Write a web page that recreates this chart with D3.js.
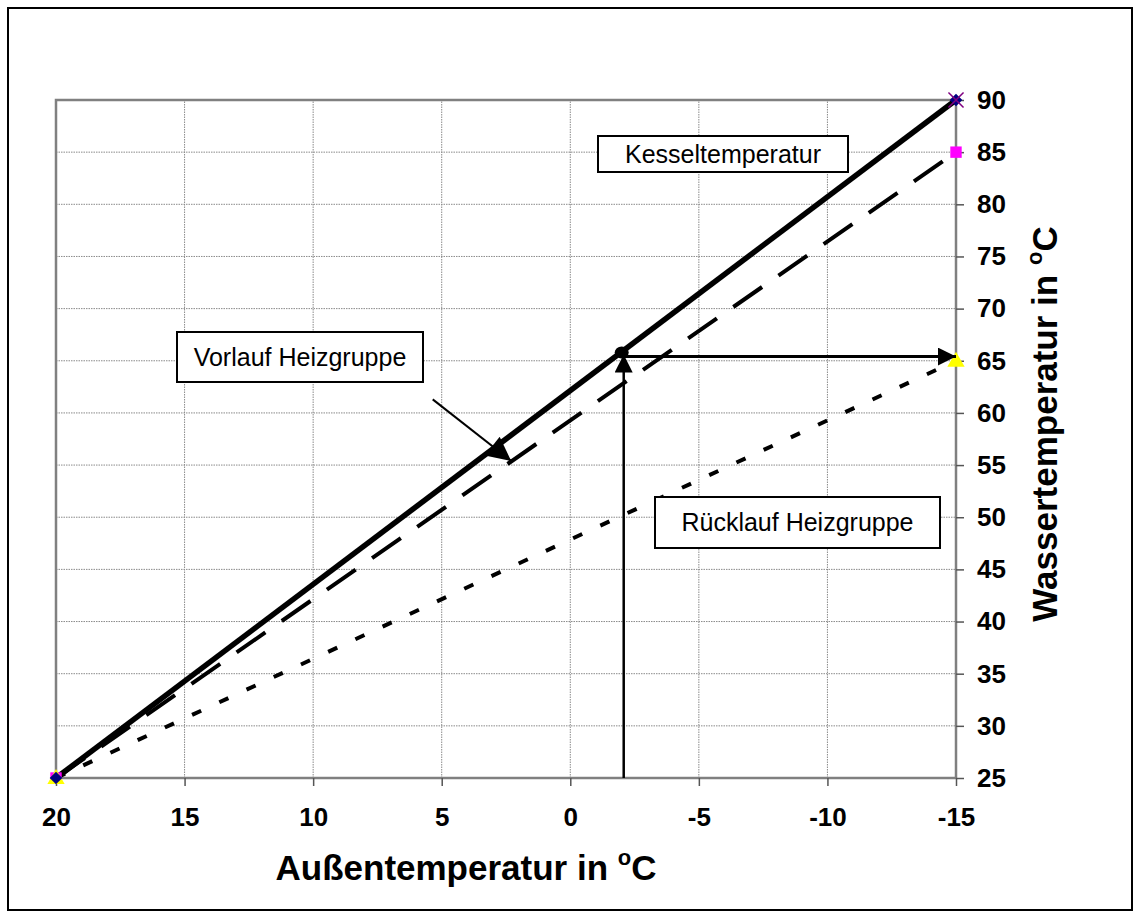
<!DOCTYPE html>
<html>
<head>
<meta charset="utf-8">
<script src="https://cdn.jsdelivr.net/npm/d3@7"></script>
<style>
  body { margin: 0; background: #fff; }
  text { font-family: "Liberation Sans", Arial, sans-serif; }
</style>
</head>
<body>
<svg id="chart" width="1134" height="912"></svg>
<script>
// Heating curve data: outdoor temperature (°C) vs. water temperature (°C)
const outdoorTemps = [20, -15];
const kesselTemps = [25, 90];      // boiler temperature
const vorlaufTemps = [25, 85];     // supply temperature, heating group
const ruecklaufTemps = [25, 65];   // return temperature, heating group
const xTickValues = [20, 15, 10, 5, 0, -5, -10, -15];
const yTickValues = [25, 30, 35, 40, 45, 50, 55, 60, 65, 70, 75, 80, 85, 90];

// Operating point
const operatingOutdoor = -2;
const operatingWater = 65.8;
const readoutWater = 65.4;

// Pointer from the "Vorlauf" label to its curve
const pointerFrom = [5.35, 61.3];
const pointerTo = [2.3, 55.4];

const svg = d3.select("#chart");
const W = 1134, H = 912;

const x = d3.scaleLinear().domain([20, -15]).range([56, 956]);
const y = d3.scaleLinear().domain([25, 90]).range([778, 100]);

// outer frame
svg.append("rect").attr("x", 8).attr("y", 8).attr("width", W - 10).attr("height", H - 10)
  .attr("fill", "#fff").attr("stroke", "#000").attr("stroke-width", 2);

const defs = svg.append("defs");
defs.append("marker").attr("id", "head").attr("viewBox", "0 0 10 10")
  .attr("refX", 10).attr("refY", 5).attr("markerUnits", "userSpaceOnUse")
  .attr("markerWidth", 30).attr("markerHeight", 18).attr("orient", "auto")
  .append("path").attr("d", "M0,0 L10,5 L0,10 Z").attr("fill", "#000");
defs.append("marker").attr("id", "headWide").attr("viewBox", "0 0 10 10")
  .attr("refX", 10).attr("refY", 5).attr("markerUnits", "userSpaceOnUse")
  .attr("markerWidth", 32).attr("markerHeight", 24).attr("orient", "auto")
  .append("path").attr("d", "M0,0 L10,5 L0,10 Z").attr("fill", "#000");

// grid
const grid = svg.append("g");
grid.selectAll("line.h").data(yTickValues).join("line")
  .attr("x1", x(20)).attr("x2", x(-15)).attr("y1", d => y(d)).attr("y2", d => y(d))
  .attr("stroke", "#8a8a8a").attr("stroke-width", 1).attr("stroke-dasharray", "1.5,1");
grid.selectAll("line.v").data(xTickValues).join("line")
  .attr("y1", y(25)).attr("y2", y(90)).attr("x1", d => x(d)).attr("x2", d => x(d))
  .attr("stroke", "#8a8a8a").attr("stroke-width", 1).attr("stroke-dasharray", "1.5,1");

// plot frame
svg.append("rect").attr("x", x(20)).attr("y", y(90)).attr("width", x(-15) - x(20)).attr("height", y(25) - y(90))
  .attr("fill", "none").attr("stroke", "#808080").attr("stroke-width", 2.5);

// axes
const xAxis = svg.append("g").attr("transform", `translate(0,${y(25)})`)
  .call(d3.axisBottom(x).tickValues(xTickValues).tickSize(8).tickPadding(22).tickFormat(d3.format("d")));
const yAxis = svg.append("g").attr("transform", `translate(${x(-15)},0)`)
  .call(d3.axisRight(y).tickValues(yTickValues).tickSize(8).tickPadding(13).tickFormat(d3.format("d")));
[xAxis, yAxis].forEach(a => {
  a.select(".domain").remove();
  a.selectAll(".tick line").attr("stroke", "#555").attr("stroke-width", 1.5);
  a.selectAll(".tick text").attr("fill", "#000").attr("font-size", 26).attr("font-weight", "bold")
    .attr("font-family", "Liberation Sans, Arial, sans-serif");
});
xAxis.selectAll(".tick text").text(d => String(d).replace("\u2212", "-"));

// axis titles
const xt = svg.append("text").attr("x", 466).attr("y", 880).attr("text-anchor", "middle")
  .attr("font-size", 35).attr("font-weight", "bold");
xt.append("tspan").text("Außentemperatur in ");
xt.append("tspan").attr("font-size", 22).attr("dy", -15).text("o");
xt.append("tspan").attr("dy", 15).text("C");

const yt = svg.append("text").attr("transform", "translate(1057,424) rotate(-90)").attr("text-anchor", "middle")
  .attr("font-size", 35).attr("font-weight", "bold");
yt.append("tspan").text("Wassertemperatur in ");
yt.append("tspan").attr("font-size", 22).attr("dy", -15).text("o");
yt.append("tspan").attr("dy", 15).text("C");

// series lines
const line = d3.line().x(d => x(d[0])).y(d => y(d[1]));
const series = [
  { values: kesselTemps, width: 5.5, dash: null },
  { values: vorlaufTemps, width: 4, dash: "35,20" },
  { values: ruecklaufTemps, width: 4, dash: "10,20" }
];
series.forEach(s => {
  svg.append("path").datum(outdoorTemps.map((t, i) => [t, s.values[i]]))
    .attr("d", line).attr("fill", "none").attr("stroke", "#000")
    .attr("stroke-width", s.width).attr("stroke-dasharray", s.dash);
});

// series markers at the data points
const markerSym = (type, size) => d3.symbol().type(type).size(size)();
outdoorTemps.forEach((t, i) => {
  svg.append("path").attr("transform", `translate(${x(t)},${y(vorlaufTemps[i])})`)
    .attr("d", markerSym(d3.symbolSquare, 130)).attr("fill", "#ff00ff");
  svg.append("path").attr("transform", `translate(${x(t)},${y(ruecklaufTemps[i]) + 1})`)
    .attr("d", markerSym(d3.symbolTriangle, 130)).attr("fill", "#ffff00");
  svg.append("path").attr("transform", `translate(${x(t)},${y(kesselTemps[i])}) rotate(45)`)
    .attr("d", markerSym(d3.symbolSquare, 80)).attr("fill", "#000080");
});
svg.append("path").attr("transform", `translate(${x(-15)},${y(90)})`)
  .attr("d", markerSym(d3.symbolTimes, 150)).attr("fill", "#800080").attr("stroke", "#800080").attr("stroke-width", 1.5);

// operating point and read-off arrows
svg.append("line").attr("x1", x(operatingOutdoor) + 2).attr("x2", x(operatingOutdoor) + 2)
  .attr("y1", y(25)).attr("y2", y(operatingWater) + 2)
  .attr("stroke", "#000").attr("stroke-width", 2.5).attr("marker-end", "url(#head)");
svg.append("line").attr("x1", x(operatingOutdoor)).attr("x2", x(-15))
  .attr("y1", y(readoutWater)).attr("y2", y(readoutWater))
  .attr("stroke", "#000").attr("stroke-width", 3).attr("marker-end", "url(#head)");
svg.append("ellipse").attr("cx", x(operatingOutdoor)).attr("cy", y(operatingWater))
  .attr("rx", 7).attr("ry", 6).attr("fill", "#000");

// label pointer
svg.append("line").attr("x1", x(pointerFrom[0])).attr("y1", y(pointerFrom[1]))
  .attr("x2", x(pointerTo[0])).attr("y2", y(pointerTo[1]))
  .attr("stroke", "#000").attr("stroke-width", 2).attr("marker-end", "url(#headWide)");

// text boxes
const boxes = [
  { text: "Kesseltemperatur", x: 598, y: 136, w: 250, h: 36 },
  { text: "Vorlauf Heizgruppe", x: 177, y: 332, w: 246, h: 50 },
  { text: "Rücklauf Heizgruppe", x: 655, y: 497, w: 285, h: 51 }
];
boxes.forEach(b => {
  svg.append("rect").attr("x", b.x).attr("y", b.y).attr("width", b.w).attr("height", b.h)
    .attr("fill", "#fff").attr("stroke", "#000").attr("stroke-width", 2);
  svg.append("text").attr("x", b.x + b.w / 2).attr("y", b.y + b.h / 2).attr("dy", "0.35em")
    .attr("text-anchor", "middle").attr("font-size", 25).text(b.text);
});
</script>
</body>
</html>
